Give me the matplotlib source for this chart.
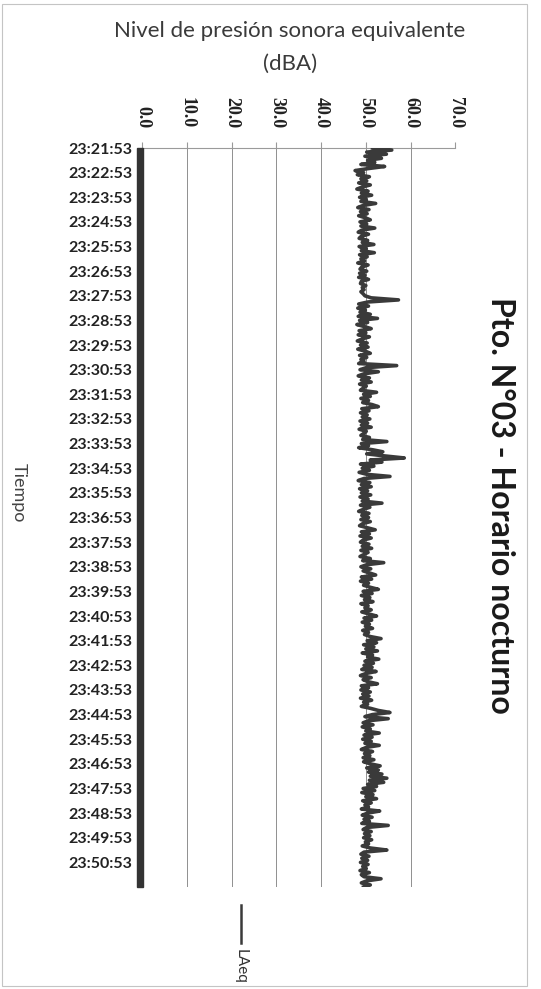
import numpy as np
import matplotlib
matplotlib.use("Agg")
import matplotlib.pyplot as plt
from matplotlib.patches import Rectangle
from matplotlib.lines import Line2D

# LAeq, one value every 5 s, one row per minute from 23:21:53
laeq = [
    51.5, 55.8, 50.2, 54.6, 49.8, 53.5, 50.4, 52.0, 48.9, 54.2, 50.6, 47.6,
    49.5, 48.1, 50.8, 48.9, 50.2, 48.4, 51.0, 49.2, 48.0, 50.5, 49.0, 51.3,
    48.6, 50.1, 48.9, 52.2, 49.4, 48.2, 50.7, 48.8, 50.3, 48.4, 49.9, 51.0,
    48.7, 50.2, 48.9, 52.0, 49.1, 48.3, 50.6, 49.0, 48.5, 50.4, 49.2, 51.8,
    48.5, 50.1, 49.0, 51.9, 48.6, 50.3, 48.9, 49.7, 48.2, 50.5, 49.1, 48.7,
    50.2, 48.6, 49.8, 48.4, 50.6, 49.0, 48.8, 50.0, 49.2, 49.6, 48.9, 49.4,
    49.8, 51.2, 57.3, 50.5, 48.4, 50.6, 48.2, 49.9, 48.7, 51.0, 48.3, 52.6,
    48.6, 50.4, 48.0, 49.7, 51.2, 48.5, 50.0, 48.3, 50.8, 49.2, 48.1, 50.3,
    48.8, 50.5, 48.2, 49.9, 51.0, 48.6, 50.2, 48.9, 49.6, 48.4, 56.9, 50.1,
    48.7, 52.8, 49.6, 48.3, 50.8, 49.0, 51.2, 48.6, 50.1, 49.4, 48.8, 52.4,
    49.5, 51.0, 48.9, 50.6, 49.3, 51.4, 52.8, 49.1, 50.7, 48.8, 50.3, 49.2,
    50.9, 48.7, 50.4, 49.0, 51.2, 48.5, 50.1, 49.6, 48.9, 50.8, 49.3, 54.7,
    49.0, 50.6, 48.4, 51.5, 53.8, 50.2, 54.2, 58.6, 51.0, 53.6, 48.8, 51.8,
    49.2, 50.8, 48.5, 50.3, 55.4, 49.6, 48.3, 50.9, 49.0, 51.2, 48.6, 50.4,
    49.0, 51.1, 48.7, 50.5, 49.2, 53.6, 48.8, 50.9, 49.5, 48.4, 50.7, 49.1,
    50.6, 48.9, 51.0, 49.3, 48.6, 50.4, 52.1, 49.0, 50.8, 48.7, 51.2, 49.4,
    48.8, 50.7, 49.2, 51.3, 48.9, 50.5, 49.6, 48.7, 51.0, 49.3, 54.0, 50.2,
    48.9, 51.1, 49.4, 50.8, 52.2, 49.0, 51.3, 48.8, 50.6, 49.5, 51.0, 52.8,
    49.4, 51.4, 49.0, 50.9, 49.7, 51.6, 48.9, 50.5, 49.8, 51.2, 49.1, 50.7,
    52.4, 49.6, 51.3, 49.2, 50.8, 49.9, 51.5, 49.3, 50.6, 49.7, 51.0, 53.4,
    50.3, 52.4, 49.5, 51.8, 50.0, 52.6, 49.2, 51.5, 50.4, 52.9, 49.8, 51.7,
    49.6, 51.4, 49.1, 52.3, 50.0, 48.8, 51.2, 49.4, 50.5, 52.6, 49.0, 50.6,
    48.9, 51.0, 49.3, 50.7, 48.8, 51.3, 49.5, 50.4, 49.0, 51.1, 52.8, 55.4,
    51.5, 49.8, 55.0, 50.6, 49.4, 51.6, 49.2, 51.0, 50.0, 53.0, 49.6, 51.4,
    49.3, 51.2, 49.8, 53.0, 50.1, 49.0, 51.5, 49.7, 50.9, 49.4, 51.8, 49.5,
    51.0, 53.2, 50.2, 52.8, 50.6, 53.6, 51.0, 54.7, 50.8, 54.0, 50.4, 52.4,
    49.4, 52.0, 49.1, 51.6, 50.0, 52.4, 49.3, 51.2, 49.8, 50.6, 49.0, 53.1,
    50.4, 49.2, 51.4, 49.6, 50.8, 49.1, 55.0, 50.2, 49.4, 51.2, 49.7, 50.9,
    49.5, 51.3, 49.9, 50.6, 49.2, 51.0, 54.7, 49.6, 48.9, 50.7, 49.1, 50.4,
    48.8, 50.5, 49.3, 50.1, 48.7, 50.8, 49.0, 49.6, 53.4, 50.2, 49.0, 51.0,
    49.5,
]
seconds = np.arange(len(laeq)) * 5

time_labels = [
    "23:21:53", "23:22:53", "23:23:53", "23:24:53", "23:25:53", "23:26:53",
    "23:27:53", "23:28:53", "23:29:53", "23:30:53", "23:31:53", "23:32:53",
    "23:33:53", "23:34:53", "23:35:53", "23:36:53", "23:37:53", "23:38:53",
    "23:39:53", "23:40:53", "23:41:53", "23:42:53", "23:43:53", "23:44:53",
    "23:45:53", "23:46:53", "23:47:53", "23:48:53", "23:49:53", "23:50:53",
]
label_seconds = np.arange(len(time_labels)) * 60
value_ticks = [0, 10, 20, 30, 40, 50, 60, 70]

W, H = 541, 989
fig = plt.figure(figsize=(W / 100, H / 100), dpi=100)
ax = fig.add_axes([142.4 / W, 1 - 887 / H, 312.8 / W, 739 / H])

ax.plot(laeq, seconds, color="#3a3a3a", lw=2.6, zorder=4,
        solid_joinstyle="round")
ax.set_xlim(0, 70)
ax.set_ylim(1800, 0)

ax.xaxis.tick_top()
ax.set_xticks(value_ticks)
ax.set_xticklabels([f"{v:.1f}" for v in value_ticks], rotation=-90,
                   family="Liberation Serif", weight="bold", fontsize=13,
                   color="#222222")
ax.tick_params(axis="x", length=4, color="#999999", pad=10)

ax.set_yticks(label_seconds)
ax.set_yticklabels(time_labels, family="Lato", weight="bold", fontsize=11.5,
                   color="#222222")
ax.tick_params(axis="y", length=0, pad=7)

ax.grid(axis="x", color="#8f8f8f", lw=0.7)
for s in ["left", "right", "bottom"]:
  ax.spines[s].set_visible(False)
ax.spines["top"].set_color("#9a9a9a")
ax.spines["top"].set_linewidth(0.8)

# dense category ticks form a dark band along the time axis
ax.add_patch(Rectangle((-0.0173, 0), 0.019, 1, transform=ax.transAxes,
                       clip_on=False, color="#333333", zorder=5))

fig.text(290 / W, 1 - 31 / H, "Nivel de presión sonora equivalente",
         ha="center", va="center", fontsize=16, family="Lato", color="#3a3a3a")
fig.text(290 / W, 1 - 64 / H, "(dBA)", ha="center", va="center",
         fontsize=16, family="Lato", color="#3a3a3a")

fig.text(500 / W, 1 - 505 / H, "Pto. N°03 - Horario nocturno", rotation=-90,
         ha="center", va="center", fontsize=23, family="Lato", weight="bold",
         color="#1a1a1a")

fig.text(19 / W, 1 - 493 / H, "Tiempo", rotation=-90, ha="center", va="center",
         fontsize=13, family="Lato", color="#444444")

fig.add_artist(Line2D([241 / W, 241 / W], [1 - 905 / H, 1 - 943 / H],
                      color="#3a3a3a", lw=1.8))
fig.text(241 / W, 1 - 966 / H, "LAeq", rotation=-90, ha="center", va="center",
         fontsize=11, family="Lato", color="#333333")

fig.add_artist(Rectangle((0.003, 0.003), 0.972, 0.993, fill=False,
                         edgecolor="#c4c4c4", lw=0.8, transform=fig.transFigure))

fig.savefig("out.png", dpi=100)
